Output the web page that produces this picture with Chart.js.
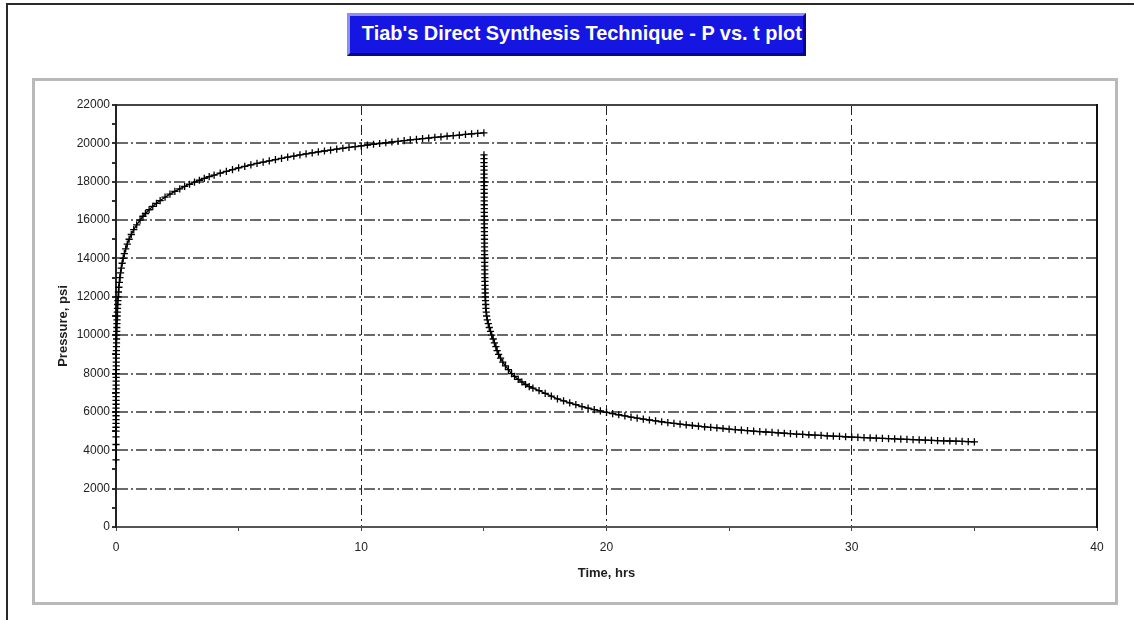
<!DOCTYPE html>
<html lang="en">
<head>
<meta charset="UTF-8">
<title>Tiab's Direct Synthesis Technique - P vs. t plot</title>
<script src="https://cdn.jsdelivr.net/npm/chart.js"></script>
<style>
  body { margin: 0; background: #fff; width: 1134px; height: 620px; position: relative; overflow: hidden;
         font-family: 'Liberation Sans', Arial, sans-serif; }
  #edgeTop { position: absolute; left: 6px; top: 3px; width: 1128px; height: 2px; background: #2a2a2a; }
  #edgeLeft { position: absolute; left: 6px; top: 3px; width: 2px; height: 617px; background: #2a2a2a; }
  #frame { position: absolute; left: 32px; top: 78px; width: 1080px; height: 521px; border: 3px solid #b9b9b9; }
  #titleBox { position: absolute; left: 347px; top: 13px; width: 459px; height: 43px; box-sizing: border-box;
              background: #1616e2; border: 3px solid; border-color: #8e8ef0 #0a0a80 #0a0a80 #8e8ef0;
              text-align: center; line-height: 33px; white-space: nowrap; }
  #titleText { display: inline-block; color: #fff; font-weight: bold; font-size: 21px;
               font-family: 'Liberation Sans Narrow', 'Liberation Sans', Arial, sans-serif; transform-origin: center; }
  #chart { position: absolute; left: 0; top: 0; }
</style>
</head>
<body>
  <div id="edgeTop"></div>
  <div id="edgeLeft"></div>
  <div id="frame"></div>
  <div id="titleBox"><span id="titleText">Tiab's Direct Synthesis Technique - P vs. t plot</span></div>
  <canvas id="chart" width="1134" height="620"></canvas>

<script>
// drawdown: time (hrs) and pressure (psi)
const ddTime = [
  0.0005, 0.0008, 0.001,
  0.00125, 0.00141, 0.00159, 0.0018, 0.00203, 0.00229, 0.00259, 0.00292, 0.0033, 0.00372,
  0.00421, 0.00475, 0.00536, 0.00605, 0.00683, 0.0077, 0.0087, 0.0098, 0.0111, 0.0125,
  0.0141, 0.0159, 0.018, 0.0203, 0.0229, 0.0259, 0.0292, 0.033, 0.0372, 0.042,
  0.0474, 0.0535, 0.0604, 0.0682, 0.077, 0.0869,
  0.1011, 0.1176, 0.1369, 0.159, 0.185, 0.216, 0.251, 0.292, 0.34, 0.395, 0.46, 0.535, 0.623, 0.724, 0.843, 0.98,
  1.1, 1.2, 1.35, 1.5, 1.65, 1.8, 2.0, 2.2, 2.4, 2.6, 2.8, 3.0, 3.2, 3.4, 3.6, 3.8, 4.0,
  4.25, 4.5, 4.75, 5.0, 5.25, 5.5, 5.75, 6.0, 6.25, 6.5, 6.75, 7.0, 7.25, 7.5, 7.75, 8.0,
  8.25, 8.5, 8.75, 9.0, 9.25, 9.5, 9.75, 10.0, 10.25, 10.5, 10.75, 11.0, 11.25, 11.5, 11.75, 12.0,
  12.25, 12.5, 12.75, 13.0, 13.25, 13.5, 13.75, 14.0, 14.25, 14.5, 14.75, 15.0
];
const ddPressure = [
  3500, 4300, 4700,
  5000, 5200, 5400, 5600, 5800, 6000, 6200, 6400, 6600, 6800,
  7000, 7200, 7400, 7600, 7800, 8000, 8200, 8400, 8600, 8800,
  9000, 9200, 9400, 9600, 9800, 10000, 10200, 10400, 10600, 10800,
  11000, 11200, 11400, 11600, 11800, 12000,
  12250, 12500, 12750, 13000, 13250, 13500, 13750, 14000, 14250, 14500, 14750, 15000, 15250, 15500, 15750, 16000,
  16199, 16344, 16540, 16715, 16874, 17019, 17194, 17353, 17498, 17631, 17754, 17869, 17977, 18078, 18173, 18263, 18348,
  18449, 18544, 18634, 18720, 18801, 18878, 18952, 19023, 19091, 19157, 19219, 19280, 19338, 19395, 19449, 19502,
  19554, 19603, 19652, 19698, 19744, 19788, 19832, 19874, 19915, 19955, 19994, 20033, 20070, 20106, 20142, 20177,
  20212, 20245, 20278, 20311, 20342, 20374, 20404, 20434, 20464, 20492, 20521, 20549
];

// buildup after shut-in at 15 hrs
const buTime = [
  15.003, 15.004, 15.005, 15.006, 15.007, 15.008, 15.009, 15.010, 15.011, 15.012,
  15.013, 15.014, 15.015, 15.016, 15.017, 15.018, 15.019, 15.020, 15.021, 15.022,
  15.023, 15.024, 15.025, 15.026, 15.027, 15.028, 15.029, 15.030, 15.032, 15.034,
  15.036, 15.038, 15.040, 15.043, 15.046, 15.050, 15.055, 15.060,
  15.067, 15.075, 15.085, 15.097, 15.11, 15.14, 15.18, 15.22, 15.27, 15.32, 15.38, 15.43, 15.49,
  15.54, 15.60, 15.68, 15.77, 15.88, 16.00, 16.13, 16.25, 16.40, 16.55, 16.70, 16.85, 17.00,
  17.25, 17.5, 17.75, 18, 18.25, 18.5, 18.75, 19, 19.25, 19.5, 19.75, 20,
  20.25, 20.5, 20.75, 21, 21.25, 21.5, 21.75, 22, 22.25, 22.5, 22.75, 23,
  23.25, 23.5, 23.75, 24, 24.25, 24.5, 24.75, 25, 25.25, 25.5, 25.75, 26,
  26.25, 26.5, 26.75, 27, 27.25, 27.5, 27.75, 28, 28.25, 28.5, 28.75, 29,
  29.25, 29.5, 29.75, 30, 30.25, 30.5, 30.75, 31, 31.25, 31.5, 31.75, 32,
  32.25, 32.5, 32.75, 33, 33.25, 33.5, 33.75, 34, 34.25, 34.5, 34.75, 35
];
const buPressure = [
  19400, 19200, 19000, 18800, 18600, 18400, 18200, 18000, 17800, 17600,
  17400, 17200, 17000, 16800, 16600, 16400, 16200, 16000, 15800, 15600,
  15400, 15200, 15000, 14800, 14600, 14400, 14200, 14000, 13800, 13600,
  13400, 13200, 13000, 12800, 12600, 12400, 12200, 12000,
  11800, 11600, 11400, 11200, 11000, 10800, 10600, 10400, 10200, 10000, 9800, 9600, 9400,
  9200, 9000, 8800, 8600, 8400, 8200, 8000, 7850, 7700, 7560, 7430, 7320, 7240,
  7107, 6962, 6823, 6684, 6575, 6474, 6377, 6280, 6199, 6124, 6052, 5980,
  5913, 5851, 5791, 5731, 5677, 5627, 5579, 5531, 5486, 5445, 5405, 5365,
  5327, 5292, 5259, 5225, 5193, 5163, 5134, 5105, 5077, 5051, 5026, 5001,
  4976, 4953, 4931, 4909, 4887, 4867, 4847, 4828, 4808, 4790, 4772, 4755,
  4737, 4721, 4706, 4690, 4674, 4659, 4645, 4631, 4616, 4603, 4590, 4577,
  4564, 4552, 4540, 4528, 4516, 4505, 4494, 4483, 4472, 4461, 4451, 4441
];

// axis ranges and tick spacing
const timeRange = [0, 40];
const timeStep = 5;        // minor ticks; labels every 10
const pressureRange = [0, 22000];
const pressureStep = 1000; // minor ticks; labels every 2000

const FONT = "'Liberation Sans', Arial, sans-serif";

// squeeze the banner text to the width of the blue box
const tt = document.getElementById('titleText');
tt.style.transform = 'scaleX(' + (440 / tt.getBoundingClientRect().width) + ')';

const toPoints = (xs, ys) => xs.map((x, i) => ({ x: x, y: ys[i] }));

// rotated y axis caption
const yCaption = {
  id: 'yCaption',
  afterDraw(chart) {
    const { ctx, chartArea } = chart;
    ctx.save();
    ctx.translate(63, (chartArea.top + chartArea.bottom) / 2 + 10);
    ctx.rotate(-Math.PI / 2);
    ctx.font = 'bold 13px ' + FONT;
    ctx.fillStyle = '#1e1e1e';
    ctx.textAlign = 'center';
    ctx.textBaseline = 'middle';
    ctx.fillText('Pressure, psi', 0, 0);
    ctx.restore();
  }
};

const series = {
  borderColor: '#000',
  backgroundColor: '#000',
  borderWidth: 1.3,
  showLine: true,
  pointStyle: 'cross',
  pointRadius: 3.6,
  pointBorderWidth: 1.3,
  pointBorderColor: '#000',
  clip: 6,
  xAxisID: 'x',
  yAxisID: 'y'
};

new Chart(document.getElementById('chart'), {
  type: 'scatter',
  data: {
    datasets: [
      Object.assign({ label: 'Drawdown', data: toPoints(ddTime, ddPressure) }, series),
      Object.assign({ label: 'Buildup', data: toPoints(buTime, buPressure) }, series)
    ]
  },
  options: {
    responsive: false,
    animation: false,
    devicePixelRatio: 1,
    layout: { padding: { left: 46, right: 37, top: 105, bottom: 39 } },
    plugins: { legend: { display: false }, tooltip: { enabled: false } },
    scales: {
      x: {
        type: 'linear',
        position: 'bottom',
        min: timeRange[0],
        max: timeRange[1],
        afterFit: s => { s.height = 54; },
        ticks: {
          stepSize: timeStep,
          autoSkip: false,
          maxRotation: 0,
          padding: 9,
          color: '#222',
          font: { family: FONT, size: 12 },
          callback: v => (v % 10 === 0 ? String(v) : '')
        },
        grid: {
          color: c => (c.tick && c.tick.value % 10 === 0 && c.tick.value > 0 && c.tick.value < 40) ? '#222' : 'transparent',
          lineWidth: 1,
          tickColor: '#444',
          tickLength: 4
        },
        border: { display: true, color: '#555', width: 2, dash: [10, 4, 2, 4] },
        title: {
          display: true,
          text: 'Time, hrs',
          color: '#1e1e1e',
          font: { family: FONT, size: 13, weight: 'bold' },
          padding: { top: 0, bottom: 0 }
        }
      },
      xTop: {
        type: 'linear',
        position: 'top',
        min: timeRange[0],
        max: timeRange[1],
        afterFit: s => { s.height = 0; },
        ticks: { display: false },
        grid: { display: false },
        border: { display: true, color: '#444', width: 2 }
      },
      y: {
        type: 'linear',
        position: 'left',
        min: pressureRange[0],
        max: pressureRange[1],
        afterFit: s => { s.width = 70; },
        ticks: {
          stepSize: pressureStep,
          autoSkip: false,
          padding: 2,
          color: '#222',
          font: { family: FONT, size: 12 },
          callback: v => (v % 2000 === 0 ? String(v) : '')
        },
        grid: {
          color: c => (c.tick && c.tick.value % 2000 === 0 && c.tick.value > 0 && c.tick.value < 22000) ? '#6a6a6a' : 'transparent',
          lineWidth: 2,
          tickColor: '#333',
          tickLength: 4
        },
        border: { display: true, color: '#222', width: 2, dash: [11, 3, 2, 3] }
      },
      yRight: {
        type: 'linear',
        position: 'right',
        min: pressureRange[0],
        max: pressureRange[1],
        afterFit: s => { s.width = 0; },
        ticks: { display: false },
        grid: { display: false },
        border: { display: true, color: '#111', width: 2 }
      }
    }
  },
  plugins: [yCaption]
});
</script>
</body>
</html>
